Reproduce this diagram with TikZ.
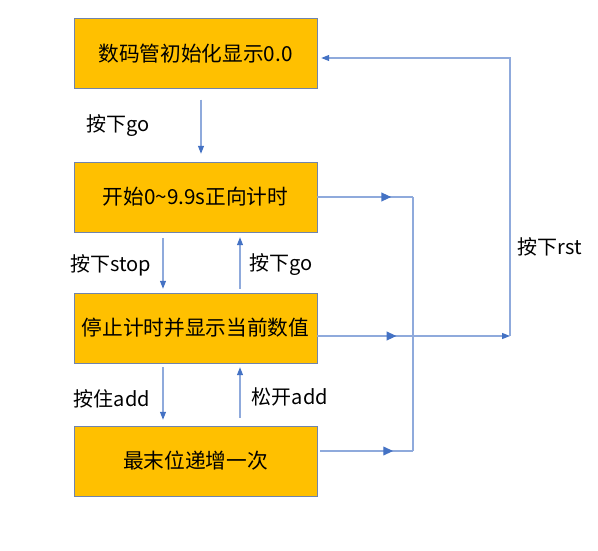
\documentclass[tikz,border=0pt]{standalone}
\usepackage{fontspec}
\setmainfont{Noto Sans CJK SC}
\usepackage{circuitikz}
\usetikzlibrary{arrows.meta}
\definecolor{boxfill}{RGB}{255,192,0}
\definecolor{boxline}{RGB}{112,132,172}
\definecolor{wireblue}{RGB}{143,170,220}
\definecolor{tipblue}{RGB}{68,114,196}
\tikzset{
  statebox/.style={draw=boxline,fill=boxfill,minimum width=243pt,minimum height=70pt,inner sep=0pt,font=\fontsize{20.7}{24}\selectfont},
  wire/.style={draw=wireblue,line width=1.2pt},
  tip/.style={-{Triangle[length=8pt,width=6pt,color=tipblue]}},
  lbl/.style={inner sep=0pt,font=\fontsize{20}{23}\selectfont},
  midtip/.style={currarrow,scale=1.8,draw=tipblue,fill=tipblue},
}
\begin{document}
\begin{tikzpicture}[x=1pt,y=-1pt]
\useasboundingbox (0,0) rectangle (598,550);

\node[statebox] (b1) at (195.5,53.5) {数码管初始化显示0.0};
\node[statebox] (b2) at (195.5,197) {开始0\textasciitilde 9.9s正向计时};
\node[statebox] (b3) at (195.5,328) {停止计时并显示当前数值};
\node[statebox] (b4) at (195.5,461) {最末位递增一次};

\coordinate (c1) at (201,0);
\coordinate (c2) at (163,0);
\coordinate (c3) at (240,0);
\coordinate (j1) at (413,197);
\coordinate (j2) at (413,451);
\coordinate (r1) at (510,336);
\coordinate (r2) at (510,58);

\draw[wire,tip,shorten <=11pt,shorten >=8pt] (b1.south -| c1)--(b2.north -| c1);
\draw[wire,tip,shorten <=6pt,shorten >=4pt] (b2.south -| c2)--(b3.north -| c2);
\draw[wire,tip,shorten <=4pt,shorten >=5pt] (b3.north -| c3)--(b2.south -| c3);
\draw[wire,tip,shorten <=4pt,shorten >=6pt] (b3.south -| c2)--(b4.north -| c2);
\draw[wire,tip,shorten <=8pt,shorten >=4pt] (b4.north -| c3)--(b3.south -| c3);

\draw (118,126) node[lbl] (l1) {按下go};
\draw (111,265) node[lbl] (l2) {按下stop};
\draw (281,265) node[lbl] (l3) {按下go};
\draw (112,399) node[lbl] (l4) {按住add};
\draw (290,397) node[lbl] (l5) {松开add};
\draw (550,247) node[lbl] (l6) {按下rst};

\draw[wire] (b2.east)--(j1) node[midtip,pos=0.71]{};
\draw[wire] (j1)--(j2);
\draw[wire,shorten <=3pt] (b4.east |- j2)--(j2) node[midtip,pos=0.73]{};
\draw[wire,tip] (b3.east |- r1)--(r1) node[midtip,pos=0.38]{};
\draw[wire,tip,shorten >=4pt] (r1)--(r2)--(b1.east |- r2);
\end{tikzpicture}
\end{document}
